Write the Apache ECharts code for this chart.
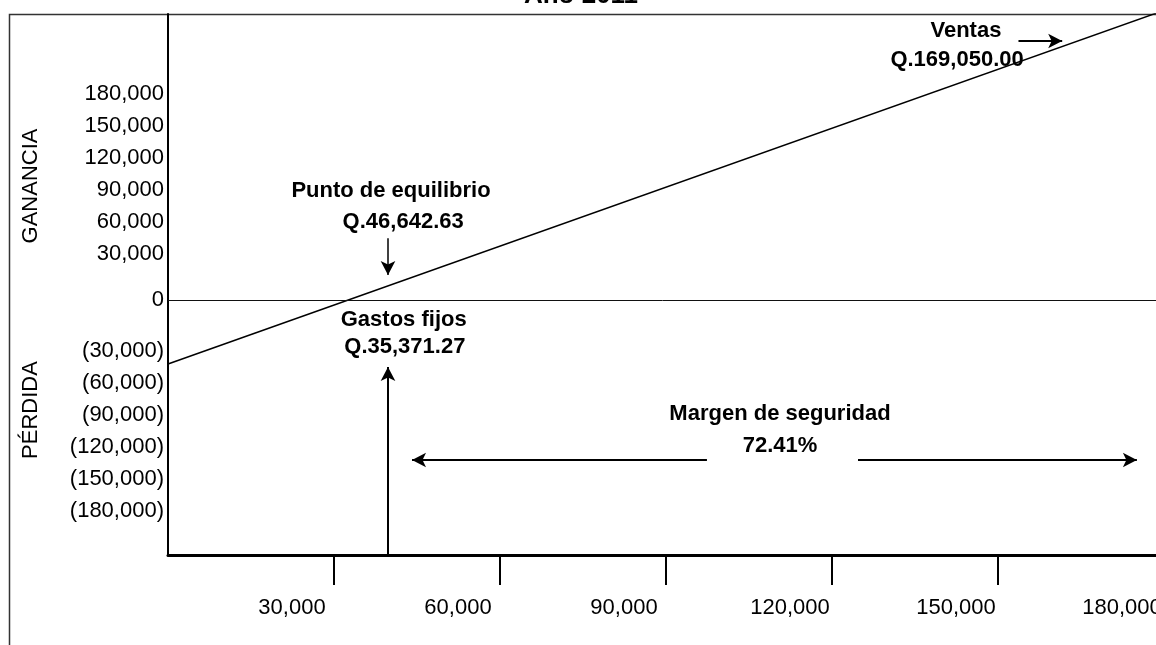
<!DOCTYPE html>
<html>
<head>
<meta charset="utf-8">
<title>Punto de equilibrio - Año 2011</title>
<script src="https://cdn.jsdelivr.net/npm/echarts@6/dist/echarts.min.js"></script>
<style>
  html, body { margin: 0; padding: 0; background: #fff; overflow: hidden; }
  #chart { width: 1156px; height: 645px; }
</style>
</head>
<body>
<div id="chart"></div>
<script>
// datos
var xTicks = [30000, 60000, 90000, 120000, 150000, 180000];
var yLabels = [180000, 150000, 120000, 90000, 60000, 30000, 0, -30000, -60000, -90000, -120000, -150000, -180000];
var ventasX = [0, 180000];
var ventasY = [-60000, 271500];

// textos de anotacion: [x, y, texto]
var notas = [
  [40300, 102000, 'Punto de equilibrio'],
  [42500, 73000, 'Q.46,642.63'],
  [42600, -18500, 'Gastos fijos'],
  [42800, -44000, 'Q.35,371.27'],
  [110600, -106500, 'Margen de seguridad'],
  [110600, -136500, '72.41%'],
  [144200, 252000, 'Ventas'],
  [142600, 225000, 'Q.169,050.00']
];
// flechas: [x1, y1, x2, y2, grosor]
var flechas = [
  [39760, 58000, 39760, 23500, 1.5],
  [39760, -239000, 39760, -62800, 2],
  [97400, -150000, 44100, -150000, 2],
  [124700, -150000, 175100, -150000, 2],
  [153700, 242800, 161600, 242800, 2]
];

var FONT = 'Liberation Sans, Arial, sans-serif';
var GAP_UP = 13125, GAP_DOWN = 17800; // separacion de etiquetas alrededor del cero

var fmtNum = function (v) {
  return Math.abs(v).toLocaleString('en-US');
};
var labelPos = [];
var labelText = {};
for (var i = 0; i < yLabels.length; i++) {
  var v = yLabels[i];
  var p = v > 0 ? v + GAP_UP : (v < 0 ? v - GAP_DOWN : 0);
  labelPos.push(p);
  labelText[p] = v < 0 ? '(' + fmtNum(v) + ')' : fmtNum(v);
}

var ventasData = [];
for (var j = 0; j < ventasX.length; j++) {
  ventasData.push([ventasX[j], ventasY[j]]);
}

// linea del cero
var markLines = [[
  { coord: [0, 0], symbol: 'none', lineStyle: { width: 1, color: '#111' } },
  { coord: [180000, 0], symbol: 'none' }
]];
flechas.forEach(function (f) {
  markLines.push([
    { coord: [f[0], f[1]], symbol: 'none', lineStyle: { width: f[4], color: '#000' } },
    { coord: [f[2], f[3]], symbol: 'arrow', symbolSize: [11, 14] }
  ]);
});

var markPoints = notas.map(function (n) {
  return {
    coord: [n[0], n[1]],
    symbolSize: 0,
    label: { show: true, position: 'inside', formatter: n[2] }
  };
});

var chart = echarts.init(document.getElementById('chart'));
var option = {
  animation: false,
  textStyle: { fontFamily: FONT },
  grid: { left: 168, top: 14, width: 996, bottom: 90, outerBoundsMode: 'none', containLabel: false },
  xAxis: {
    type: 'value',
    min: 0,
    max: 180000,
    axisLine: { onZero: false, lineStyle: { color: '#000', width: 3 } },
    axisTick: { show: true, customValues: xTicks, length: 30, lineStyle: { color: '#000', width: 2 } },
    axisLabel: {
      customValues: xTicks,
      margin: 42,
      color: '#000',
      fontSize: 22,
      fontFamily: FONT,
      padding: [0, 84, 0, 0],
      formatter: function (v) { return fmtNum(v); }
    },
    splitLine: { show: false }
  },
  yAxis: {
    type: 'value',
    min: -239062.5,
    max: 268125,
    axisLine: { show: true, lineStyle: { color: '#000', width: 2 } },
    axisTick: { show: false },
    axisLabel: {
      customValues: labelPos,
      margin: 4,
      color: '#000',
      fontSize: 22,
      fontFamily: FONT,
      formatter: function (v) { return labelText[v]; }
    },
    splitLine: { show: false }
  },
  series: [{
    name: 'Ventas',
    type: 'line',
    data: ventasData,
    symbol: 'none',
    silent: true,
    lineStyle: { color: '#000', width: 1.5 },
    markLine: {
      silent: true,
      label: { show: false },
      lineStyle: { type: 'solid', color: '#000' },
      emphasis: { disabled: true },
      data: markLines
    },
    markPoint: {
      silent: true,
      label: { color: '#000', fontSize: 22, fontWeight: 'bold', fontFamily: FONT },
      data: markPoints
    }
  }],
  graphic: [
    {
      type: 'polyline',
      silent: true,
      shape: { points: [[9.5, 645], [9.5, 14.5], [1156, 14.5]] },
      style: { stroke: '#333', lineWidth: 1.5, fill: null }
    },
    {
      type: 'text',
      x: 581, y: -4,
      style: { text: 'Año 2011', font: 'bold 26px ' + FONT, fill: '#000', align: 'center', verticalAlign: 'middle' }
    },
    {
      type: 'text',
      x: 31, y: 186, rotation: Math.PI / 2,
      style: { text: 'GANANCIA', font: '22px ' + FONT, fill: '#000', align: 'center', verticalAlign: 'middle' }
    },
    {
      type: 'text',
      x: 31, y: 410, rotation: Math.PI / 2,
      style: { text: 'PÉRDIDA', font: '22px ' + FONT, fill: '#000', align: 'center', verticalAlign: 'middle' }
    }
  ]
};
chart.setOption(option);
</script>
</body>
</html>
